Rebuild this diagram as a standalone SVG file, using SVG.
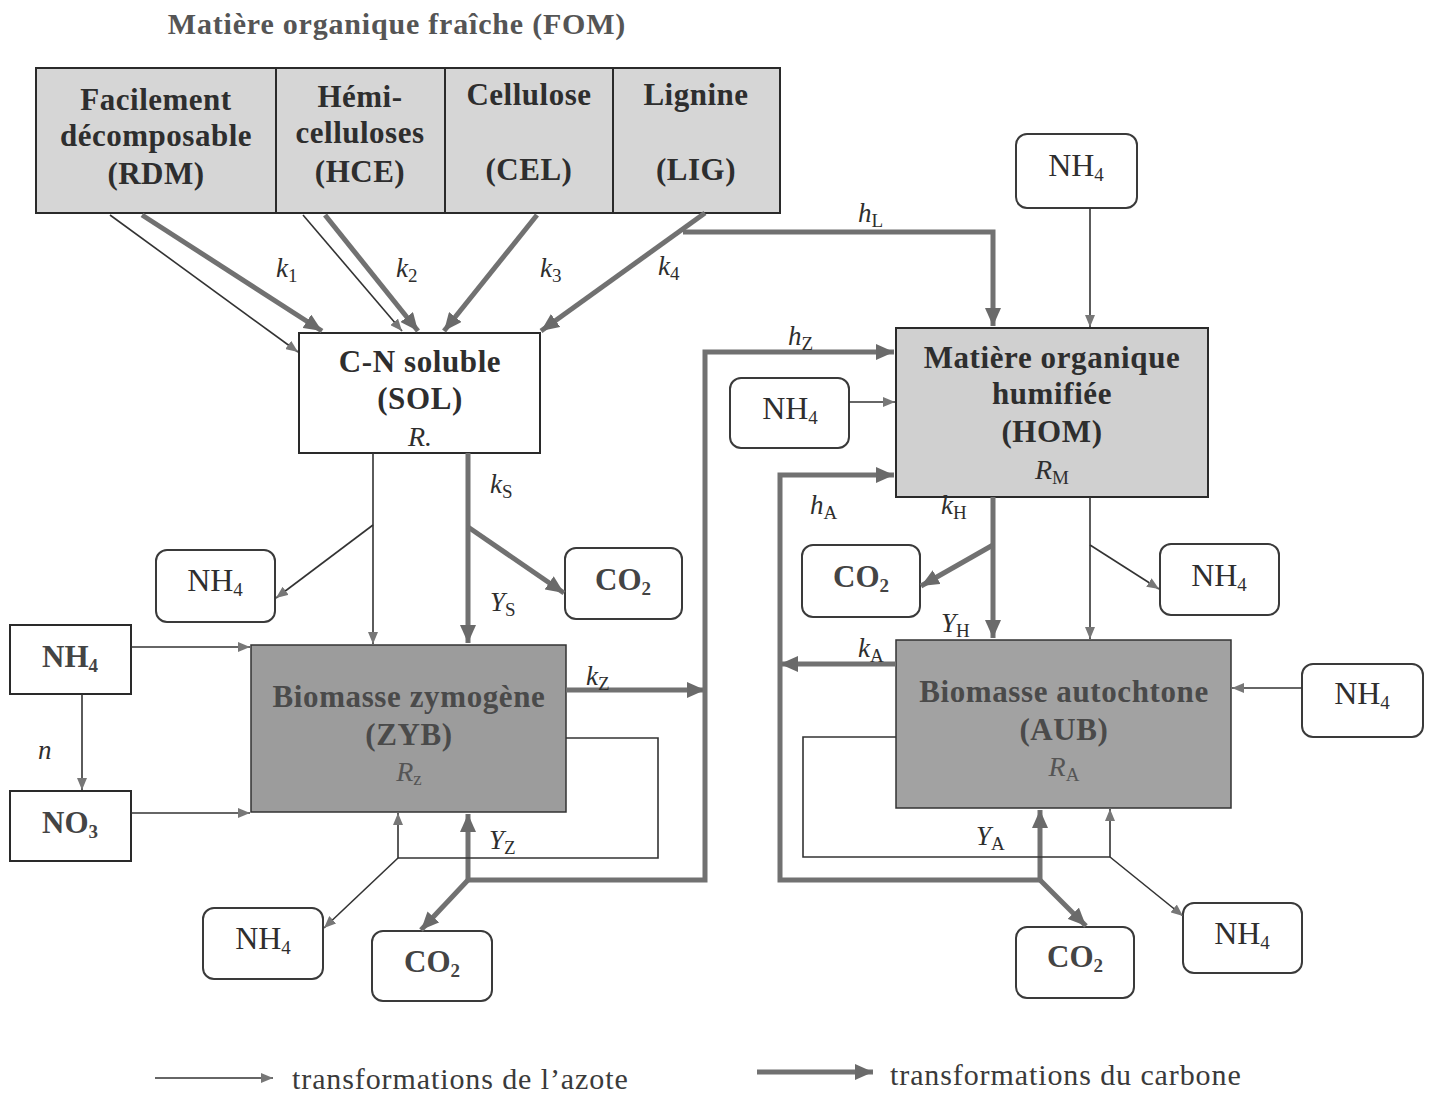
<svg xmlns="http://www.w3.org/2000/svg" width="1432" height="1093" viewBox="0 0 1432 1093">
<defs>
<style>
text{font-family:"Liberation Serif","Times New Roman",serif;fill:#2e2e2e}
.title{font-size:30px;font-weight:bold;fill:#555;letter-spacing:0.8px}
.big{font-size:31px;font-weight:bold;text-anchor:middle;letter-spacing:0.5px}
.mid{font-size:31px;font-weight:bold;text-anchor:middle;letter-spacing:0.6px}
.bio{font-size:31px;font-weight:bold;text-anchor:middle;fill:#4a4a4a;letter-spacing:0.6px}
.ital{font-size:28px;font-style:italic;text-anchor:middle}
.lab{font-size:27px;font-style:italic}
.pool{font-size:32px;text-anchor:middle}
.poolb{font-size:31px;font-weight:bold;text-anchor:middle;fill:#444}
.leg{font-size:30px;fill:#3a3a3a;letter-spacing:0.9px}
.sub{font-size:19px;font-style:normal;letter-spacing:0}
.rbox{fill:#fff;stroke:#3a3a3a;stroke-width:2}
.sbox{fill:#fff;stroke:#2a2a2a;stroke-width:2}
.n{fill:none;stroke:#333;stroke-width:1.6}
.c{fill:none;stroke:#717171;stroke-width:5}
</style>
<marker id="an" viewBox="0 0 12 10" refX="12" refY="5" markerWidth="12" markerHeight="10" markerUnits="userSpaceOnUse" orient="auto">
<path d="M0,0 L12,5 L0,10 z" fill="#777"/>
</marker>
<marker id="ac" viewBox="0 0 18 16" refX="18" refY="8" markerWidth="18" markerHeight="16" markerUnits="userSpaceOnUse" orient="auto">
<path d="M0,0 L18,8 L0,16 z" fill="#6a6a6a"/>
</marker>
</defs>
<rect width="1432" height="1093" fill="#fff"/>

<text class="title" x="397" y="34" text-anchor="middle">Matière organique fraîche (FOM)</text>

<g id="FOM">
<rect x="36" y="68" width="744" height="145" fill="#d6d6d6" stroke="#2a2a2a" stroke-width="2"/>
<line x1="276" y1="68" x2="276" y2="213" stroke="#2a2a2a" stroke-width="2"/>
<line x1="445" y1="68" x2="445" y2="213" stroke="#2a2a2a" stroke-width="2"/>
<line x1="613" y1="68" x2="613" y2="213" stroke="#2a2a2a" stroke-width="2"/>
</g>
<g id="RDM">
<text class="big" x="156" y="110">Facilement</text>
<text class="big" x="156" y="146">décomposable</text>
<text class="big" x="156" y="184">(RDM)</text>
</g>
<g id="HCE">
<text class="big" x="360" y="107">Hémi-</text>
<text class="big" x="360" y="143">celluloses</text>
<text class="big" x="360" y="182">(HCE)</text>
</g>
<g id="CEL">
<text class="big" x="529" y="105">Cellulose</text>
<text class="big" x="529" y="180">(CEL)</text>
</g>
<g id="LIG">
<text class="big" x="696" y="105">Lignine</text>
<text class="big" x="696" y="180">(LIG)</text>
</g>

<g id="SOL">
<rect x="299" y="333" width="241" height="120" fill="#fff" stroke="#2a2a2a" stroke-width="2"/>
<text class="mid" x="420" y="372">C-N soluble</text>
<text class="mid" x="420" y="409">(SOL)</text>
<text class="ital" x="420" y="446">R.</text>
</g>

<g id="HOM">
<rect x="896" y="328" width="312" height="169" fill="#d0d0d0" stroke="#2a2a2a" stroke-width="2"/>
<text class="mid" x="1052" y="368">Matière organique</text>
<text class="mid" x="1052" y="404">humifiée</text>
<text class="mid" x="1052" y="442">(HOM)</text>
<text class="ital" x="1052" y="479">R<tspan class="sub" dy="5">M</tspan></text>
</g>

<g id="ZYB">
<rect x="251" y="645" width="315" height="167" fill="#9c9c9c" stroke="#333" stroke-width="1.5"/>
<text class="bio" x="409" y="707">Biomasse zymogène</text>
<text class="bio" x="409" y="745">(ZYB)</text>
<text class="ital" x="409" y="781" style="fill:#555">R<tspan class="sub" dy="4">z</tspan></text>
</g>

<g id="AUB">
<rect x="896" y="640" width="335" height="168" fill="#a2a2a2" stroke="#333" stroke-width="1.5"/>
<text class="bio" x="1064" y="702">Biomasse autochtone</text>
<text class="bio" x="1064" y="740">(AUB)</text>
<text class="ital" x="1064" y="776" style="fill:#555">R<tspan class="sub" dy="5">A</tspan></text>
</g>

<g id="NH4_top">
<rect class="rbox" x="1016" y="134" width="121" height="74" rx="11"/>
<text class="pool" x="1076" y="176">NH<tspan class="sub" dy="5">4</tspan></text>
</g>
<g id="NH4_hom_left">
<rect class="rbox" x="730" y="378" width="119" height="70" rx="11"/>
<text class="pool" x="790" y="419">NH<tspan class="sub" dy="5">4</tspan></text>
</g>
<g id="NH4_sol">
<rect class="rbox" x="156" y="550" width="119" height="72" rx="11"/>
<text class="pool" x="215" y="591">NH<tspan class="sub" dy="5">4</tspan></text>
</g>
<g id="CO2_sol">
<rect class="rbox" x="565" y="548" width="117" height="71" rx="11"/>
<text class="poolb" x="623" y="590">CO<tspan class="sub" dy="5">2</tspan></text>
</g>
<g id="CO2_hom">
<rect class="rbox" x="802" y="545" width="118" height="72" rx="11"/>
<text class="poolb" x="861" y="587">CO<tspan class="sub" dy="5">2</tspan></text>
</g>
<g id="NH4_hom_right">
<rect class="rbox" x="1160" y="544" width="119" height="71" rx="11"/>
<text class="pool" x="1219" y="586">NH<tspan class="sub" dy="5">4</tspan></text>
</g>
<g id="NH4_aub">
<rect class="rbox" x="1302" y="664" width="121" height="73" rx="11"/>
<text class="pool" x="1362" y="704">NH<tspan class="sub" dy="5">4</tspan></text>
</g>
<g id="NH4_zyb_bottom">
<rect class="rbox" x="203" y="908" width="120" height="71" rx="11"/>
<text class="pool" x="263" y="949">NH<tspan class="sub" dy="5">4</tspan></text>
</g>
<g id="CO2_zyb">
<rect class="rbox" x="372" y="931" width="120" height="70" rx="11"/>
<text class="poolb" x="432" y="972">CO<tspan class="sub" dy="5">2</tspan></text>
</g>
<g id="CO2_aub">
<rect class="rbox" x="1016" y="927" width="118" height="71" rx="11"/>
<text class="poolb" x="1075" y="967">CO<tspan class="sub" dy="5">2</tspan></text>
</g>
<g id="NH4_aub_bottom">
<rect class="rbox" x="1183" y="903" width="119" height="70" rx="11"/>
<text class="pool" x="1242" y="944">NH<tspan class="sub" dy="5">4</tspan></text>
</g>
<g id="NH4_left">
<rect class="sbox" x="10" y="625" width="121" height="69"/>
<text class="poolb" x="70" y="667">NH<tspan class="sub" dy="5">4</tspan></text>
</g>
<g id="NO3">
<rect class="sbox" x="10" y="791" width="121" height="70"/>
<text class="poolb" x="70" y="833">NO<tspan class="sub" dy="5">3</tspan></text>
</g>

<g id="connectors">
<line class="n" x1="110" y1="215" x2="298" y2="352" marker-end="url(#an)"/>
<line class="c" x1="142" y1="215" x2="322" y2="331" marker-end="url(#ac)"/>
<line class="n" x1="303" y1="215" x2="402" y2="331" marker-end="url(#an)"/>
<line class="c" x1="325" y1="215" x2="418" y2="331" marker-end="url(#ac)"/>
<line class="c" x1="537" y1="215" x2="444" y2="331" marker-end="url(#ac)"/>
<line class="c" x1="705" y1="213" x2="541" y2="331" marker-end="url(#ac)"/>
<polyline class="c" points="683,232 993,232 993,326" marker-end="url(#ac)"/>
<line class="n" x1="1090" y1="208" x2="1090" y2="327" marker-end="url(#an)"/>
<line class="n" x1="849" y1="402" x2="895" y2="402" marker-end="url(#an)"/>
<line class="n" x1="373" y1="453" x2="373" y2="644" marker-end="url(#an)"/>
<line class="n" x1="373" y1="525" x2="276" y2="598" marker-end="url(#an)"/>
<line class="c" x1="468" y1="453" x2="468" y2="643" marker-end="url(#ac)"/>
<line class="c" x1="468" y1="527" x2="564" y2="593" marker-end="url(#ac)"/>
<line class="n" x1="131" y1="647" x2="250" y2="647" marker-end="url(#an)"/>
<line class="n" x1="82" y1="694" x2="82" y2="790" marker-end="url(#an)"/>
<line class="n" x1="131" y1="813" x2="250" y2="813" marker-end="url(#an)"/>
<line class="c" x1="566" y1="690" x2="705" y2="690" marker-end="url(#ac)"/>
<polyline class="c" points="468,880 705,880 705,352 894,352" marker-end="url(#ac)"/>
<line class="c" x1="468" y1="882" x2="468" y2="814" marker-end="url(#ac)"/>
<line class="c" x1="468" y1="880" x2="421" y2="930" marker-end="url(#ac)"/>
<polyline class="n" points="566,738 658,738 658,858 398,858 398,813" marker-end="url(#an)"/>
<line class="n" x1="398" y1="858" x2="324" y2="928" marker-end="url(#an)"/>
<line class="c" x1="993" y1="497" x2="993" y2="638" marker-end="url(#ac)"/>
<line class="c" x1="993" y1="545" x2="921" y2="586" marker-end="url(#ac)"/>
<line class="n" x1="1090" y1="497" x2="1090" y2="639" marker-end="url(#an)"/>
<line class="n" x1="1090" y1="545" x2="1159" y2="589" marker-end="url(#an)"/>
<line class="n" x1="1302" y1="688" x2="1232" y2="688" marker-end="url(#an)"/>
<line class="c" x1="896" y1="664" x2="780" y2="664" marker-end="url(#ac)"/>
<polyline class="c" points="1040,880 780,880 780,475 894,475" marker-end="url(#ac)"/>
<line class="c" x1="1040" y1="882" x2="1040" y2="810" marker-end="url(#ac)"/>
<line class="c" x1="1040" y1="880" x2="1086" y2="926" marker-end="url(#ac)"/>
<polyline class="n" points="896,737 803,737 803,857 1110,857 1110,809" marker-end="url(#an)"/>
<line class="n" x1="1110" y1="857" x2="1183" y2="916" marker-end="url(#an)"/>
<line class="n" x1="155" y1="1078" x2="273" y2="1078" marker-end="url(#an)"/>
<line class="c" x1="757" y1="1072" x2="873" y2="1072" marker-end="url(#ac)"/>
</g>

<g id="labels">
<text class="lab" x="276" y="277">k<tspan class="sub" dy="5">1</tspan></text>
<text class="lab" x="396" y="277">k<tspan class="sub" dy="5">2</tspan></text>
<text class="lab" x="540" y="277">k<tspan class="sub" dy="5">3</tspan></text>
<text class="lab" x="658" y="275">k<tspan class="sub" dy="5">4</tspan></text>
<text class="lab" x="858" y="222">h<tspan class="sub" dy="5">L</tspan></text>
<text class="lab" x="788" y="345">h<tspan class="sub" dy="5">Z</tspan></text>
<text class="lab" x="490" y="493">k<tspan class="sub" dy="5">S</tspan></text>
<text class="lab" x="490" y="611">Y<tspan class="sub" dy="5">S</tspan></text>
<text class="lab" x="586" y="685">k<tspan class="sub" dy="5">Z</tspan></text>
<text class="lab" x="489" y="849">Y<tspan class="sub" dy="5">Z</tspan></text>
<text class="lab" x="38" y="759">n</text>
<text class="lab" x="810" y="514">h<tspan class="sub" dy="5">A</tspan></text>
<text class="lab" x="941" y="514">k<tspan class="sub" dy="5">H</tspan></text>
<text class="lab" x="941" y="632">Y<tspan class="sub" dy="5">H</tspan></text>
<text class="lab" x="858" y="657">k<tspan class="sub" dy="5">A</tspan></text>
<text class="lab" x="976" y="845">Y<tspan class="sub" dy="5">A</tspan></text>
</g>

<g id="legend">
<text class="leg" x="292" y="1089">transformations de l’azote</text>
<text class="leg" x="890" y="1085">transformations du carbone</text>
</g>
</svg>
